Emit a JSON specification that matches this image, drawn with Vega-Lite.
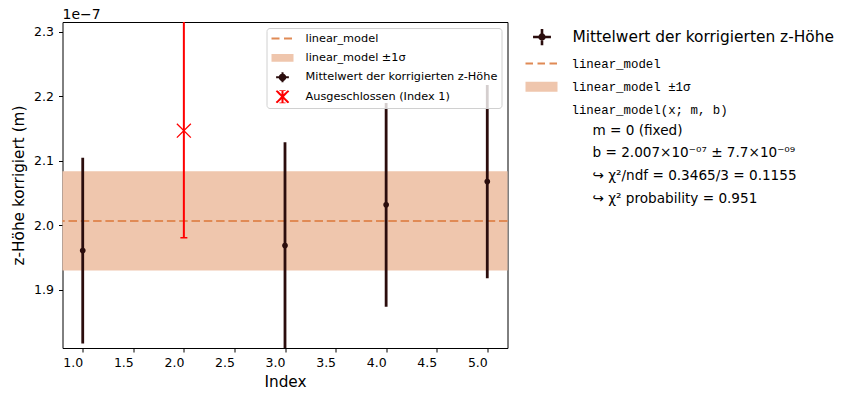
{
  "$schema": "https://vega.github.io/schema/vega-lite/v6.json",
  "padding": {"left": 10.5, "top": 7, "right": 0, "bottom": 0},
  "autosize": {"type": "pad"},
  "background": "white",
  "spacing": 0,
  "datasets": {
    "measurements": [
      {"index": 1, "z": 1.961e-7, "lo": 1.817e-7, "hi": 2.105e-7},
      {"index": 3, "z": 1.969e-7, "lo": 1.809e-7, "hi": 2.129e-7},
      {"index": 4, "z": 2.032e-7, "lo": 1.874e-7, "hi": 2.190e-7},
      {"index": 5, "z": 2.068e-7, "lo": 1.918e-7, "hi": 2.218e-7}
    ],
    "excluded": [
      {"index": 2, "z": 2.147e-7, "lo": 1.981e-7, "hi": 2.318e-7}
    ],
    "fit": [
      {"b": 2.007e-7, "lo": 1.930e-7, "hi": 2.084e-7}
    ]
  },
  "resolve": {
    "scale": {"color": "independent", "shape": "independent", "strokeDash": "independent", "fill": "independent", "stroke": "independent"},
    "legend": {"color": "independent", "shape": "independent", "strokeDash": "independent", "fill": "independent", "stroke": "independent"}
  },
  "hconcat": [
    {
      "width": 445,
      "height": 326,
      "title": {"text": "1e−7", "anchor": "start", "frame": "group", "fontSize": 14, "fontWeight": "normal", "font": "DejaVu Sans", "color": "#000000", "offset": -11, "baseline": "alphabetic"},
      "layer": [
        {
          "data": {"name": "fit"},
          "mark": {"type": "rect", "opacity": 1},
          "encoding": {
            "y": {
              "field": "lo", "type": "quantitative", "title": "z-Höhe korrigiert (m)",
              "scale": {"domain": [1.81e-7, 2.3155e-7], "nice": false, "zero": false},
              "axis": {"values": [1.9e-7, 2.0e-7, 2.1e-7, 2.2e-7, 2.3e-7], "labelExpr": "format(datum.value * 1e7, '.1f')", "labelPadding": 5, "titlePadding": 7}
            },
            "y2": {"field": "hi"},
            "color": {
              "datum": "linear_model ±1σ",
              "scale": {
                "domain": ["linear_model", "linear_model ±1σ", "Mittelwert der korrigierten z-Höhe", "Ausgeschlossen (Index 1)"],
                "range": ["#e08a55", "#efc6ad", "#2b0d0d", "#ff0000"]
              },
              "legend": {
                "orient": "top-right",
                "offset": 6,
                "padding": 4,
                "title": null,
                "clipHeight": 13,
                "rowPadding": 6.4,
                "symbolSize": 484,
                "symbolStrokeWidth": 2,
                "symbolOpacity": 1,
                "labelOffset": 11,
                "labelLimit": 500,
                "labelFontSize": 11.3,
                "labelFont": "DejaVu Sans",
                "labelColor": "#000000",
                "fillColor": "rgba(255,255,255,0.8)",
                "strokeColor": "#d0d0d0",
                "cornerRadius": 3
              }
            }
          }
        },
        {
          "data": {"name": "fit"},
          "mark": {"type": "rule", "strokeWidth": 2, "strokeDash": [8.5, 3.8]},
          "encoding": {
            "y": {"field": "b", "type": "quantitative", "title": "z-Höhe korrigiert (m)"},
            "color": {"datum": "linear_model"}
          }
        },
        {
          "data": {"name": "measurements"},
          "mark": {"type": "rule", "strokeWidth": 2.8, "clip": true},
          "encoding": {
            "x": {
              "field": "index", "type": "quantitative", "title": "Index",
              "scale": {"domain": [0.8, 5.2], "nice": false, "zero": false},
              "axis": {"values": [1, 1.5, 2, 2.5, 3, 3.5, 4, 4.5, 5], "format": ".1f", "labelAlign": "right", "labelPadding": 4, "titlePadding": 6}
            },
            "y": {"field": "lo", "type": "quantitative", "title": "z-Höhe korrigiert (m)"},
            "y2": {"field": "hi"},
            "color": {"datum": "Mittelwert der korrigierten z-Höhe"}
          }
        },
        {
          "data": {"name": "measurements"},
          "mark": {"type": "point", "shape": "circle", "filled": true, "size": 32, "opacity": 1},
          "encoding": {
            "x": {"field": "index", "type": "quantitative", "title": "Index"},
            "y": {"field": "z", "type": "quantitative", "title": "z-Höhe korrigiert (m)"},
            "color": {"datum": "Mittelwert der korrigierten z-Höhe"}
          }
        },
        {
          "data": {"name": "excluded"},
          "mark": {"type": "rule", "strokeWidth": 2, "clip": true},
          "encoding": {
            "x": {"field": "index", "type": "quantitative", "title": "Index"},
            "y": {"field": "lo", "type": "quantitative", "title": "z-Höhe korrigiert (m)"},
            "y2": {"field": "hi"},
            "color": {"datum": "Ausgeschlossen (Index 1)"}
          }
        },
        {
          "data": {"name": "excluded"},
          "mark": {"type": "tick", "orient": "horizontal", "size": 7, "thickness": 1.5, "clip": true, "opacity": 1},
          "encoding": {
            "x": {"field": "index", "type": "quantitative", "title": "Index"},
            "y": {"field": "lo", "type": "quantitative", "title": "z-Höhe korrigiert (m)"},
            "color": {"datum": "Ausgeschlossen (Index 1)"}
          }
        },
        {
          "data": {"name": "excluded"},
          "mark": {"type": "tick", "orient": "horizontal", "size": 7, "thickness": 1.5, "clip": true, "opacity": 1},
          "encoding": {
            "x": {"field": "index", "type": "quantitative", "title": "Index"},
            "y": {"field": "hi", "type": "quantitative", "title": "z-Höhe korrigiert (m)"},
            "color": {"datum": "Ausgeschlossen (Index 1)"}
          }
        },
        {
          "data": {"name": "excluded"},
          "mark": {"type": "point", "shape": "M-0.6,-0.6L0.6,0.6M-0.6,0.6L0.6,-0.6", "filled": false, "size": 544, "strokeWidth": 1.3, "opacity": 1},
          "encoding": {
            "x": {"field": "index", "type": "quantitative", "title": "Index"},
            "y": {"field": "z", "type": "quantitative", "title": "z-Höhe korrigiert (m)"},
            "color": {"datum": "Ausgeschlossen (Index 1)"}
          }
        },
        {
          "data": {"values": []},
          "mark": {"type": "point", "opacity": 1},
          "encoding": {
            "shape": {
              "datum": "linear_model",
              "scale": {
                "domain": ["linear_model", "linear_model ±1σ", "Mittelwert der korrigierten z-Höhe", "Ausgeschlossen (Index 1)"],
                "range": ["M-1,0H1", "M-0.91,-0.27H0.91V0.27H-0.91Z", "M-0.58,0H0.58M0,-0.45V0.45M0.25,0A0.25,0.25 0 1,1 -0.25,0A0.25,0.25 0 1,1 0.25,0", "M-0.55,-0.55L0.55,0.55M-0.55,0.55L0.55,-0.55M0,-0.62V0.62M-0.28,-0.62H0.28M-0.28,0.62H0.28"]
              },
              "legend": {"title": null}
            },
            "strokeDash": {
              "datum": "linear_model",
              "scale": {
                "domain": ["linear_model", "linear_model ±1σ", "Mittelwert der korrigierten z-Höhe", "Ausgeschlossen (Index 1)"],
                "range": [[8, 4.5], [1, 0], [1, 0], [1, 0]]
              },
              "legend": {"title": null}
            }
          }
        }
      ]
    },
    {
      "width": 1,
      "height": 326,
      "view": {"stroke": null},
      "layer": [
        {
          "data": {"values": []},
          "mark": {"type": "point", "filled": true, "stroke": "#2b0d0d", "strokeWidth": 2.6, "opacity": 1},
          "encoding": {
            "fill": {
              "datum": "Mittelwert der korrigierten z-Höhe",
              "scale": {"domain": ["Mittelwert der korrigierten z-Höhe"], "range": ["#2b0d0d"]},
              "legend": {
                "orient": "none", "legendX": 15, "legendY": 7, "padding": 0, "title": null,
                "clipHeight": 16, "rowPadding": 7, "symbolSize": 1024,
                "symbolType": "M-0.56,0H0.56M0,-0.53V0.53M0.15,0A0.15,0.15 0 1,1 -0.15,0A0.15,0.15 0 1,1 0.15,0",
                "symbolStrokeColor": "#2b0d0d", "symbolStrokeWidth": 2.6, "symbolOpacity": 1,
                "labelOffset": 13, "labelLimit": 500, "labelFont": "DejaVu Sans", "labelFontSize": 15.4, "labelColor": "#000000"
              }
            }
          }
        },
        {
          "data": {"values": []},
          "mark": {"type": "point", "filled": true, "fill": "#efc6ad", "strokeWidth": 2, "opacity": 1},
          "encoding": {
            "shape": {
              "datum": "linear_model",
              "scale": {"domain": ["linear_model", "linear_model ±1σ", "linear_model(x; m, b)"], "range": ["M-1,0H1", "M-1,-0.31H1V0.31H-1Z", "M0,0"]},
              "legend": {
                "orient": "none", "legendX": 15, "legendY": 33.5, "padding": 0, "title": null,
                "clipHeight": 16, "rowPadding": 7.3, "symbolSize": 1024, "symbolStrokeWidth": 2, "symbolOpacity": 1,
                "labelOffset": 13, "labelLimit": 500, "labelFont": "Liberation Mono", "labelFontSize": 12.4, "labelColor": "#000000"
              }
            },
            "stroke": {
              "datum": "linear_model",
              "scale": {"domain": ["linear_model", "linear_model ±1σ", "linear_model(x; m, b)"], "range": ["#e08a55", "transparent", "transparent"]},
              "legend": {"title": null}
            },
            "strokeDash": {
              "datum": "linear_model",
              "scale": {"domain": ["linear_model", "linear_model ±1σ", "linear_model(x; m, b)"], "range": [[7.5, 4.5], [1, 0], [1, 0]]},
              "legend": {"title": null}
            }
          }
        },
        {
          "data": {"values": []},
          "mark": {"type": "point", "filled": false, "opacity": 1},
          "encoding": {
            "color": {
              "datum": "m = 0 (fixed)",
              "scale": {"domain": ["m = 0 (fixed)", "b = 2.007×10⁻⁰⁷ ± 7.7×10⁻⁰⁹", "↪ χ²/ndf = 0.3465/3 = 0.1155", "↪ χ² probability = 0.951"], "range": ["transparent", "transparent", "transparent", "transparent"]},
              "legend": {
                "orient": "none", "legendX": 15, "legendY": 100.5, "padding": 0, "title": null,
                "clipHeight": 16, "rowPadding": 6.7, "symbolSize": 1024, "symbolOpacity": 0,
                "labelOffset": 34, "labelLimit": 500, "labelFont": "DejaVu Sans", "labelFontSize": 13.6, "labelColor": "#000000"
              }
            }
          }
        }
      ]
    }
  ],
  "config": {
    "font": "DejaVu Sans",
    "view": {"stroke": "#000000", "strokeWidth": 1},
    "axis": {
      "domain": false,
      "grid": false,
      "ticks": true,
      "tickColor": "#000000",
      "tickSize": 4,
      "labelColor": "#000000",
      "labelFont": "DejaVu Sans",
      "labelFontSize": 12.5,
      "titleFont": "DejaVu Sans",
      "titleFontSize": 15.3,
      "titleFontWeight": "normal",
      "titleColor": "#000000"
    }
  }
}
